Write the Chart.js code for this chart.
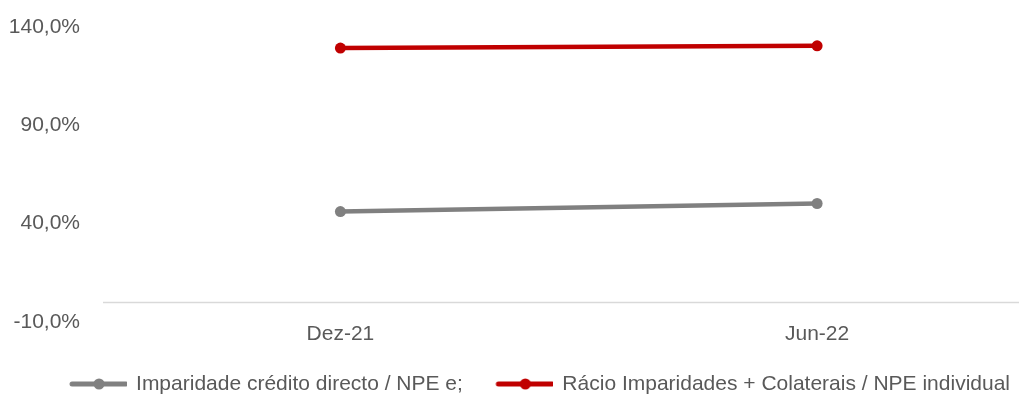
<!DOCTYPE html>
<html>
<head>
<meta charset="utf-8">
<script src="https://cdn.jsdelivr.net/npm/chart.js@4"></script>
<style>
  html, body { margin: 0; padding: 0; background: #fff; }
  #wrap { width: 1019px; height: 397px; }
</style>
</head>
<body>
<div id="wrap"><canvas id="chart" width="1019" height="397"></canvas></div>
<script>
const categories = ["Dez-21", "Jun-22"];
const imparidadeValues = [46.1, 50.2];
const racioValues = [129.3, 130.4];
const seriesNames = ["Imparidade crédito directo / NPE e;", "Rácio Imparidades + Colaterais / NPE individual"];
const yTicks = [-10, 40, 90, 140];

const GREY = "#808080";
const RED = "#C00000";
const TEXT = "#595959";
const FONT = "'Liberation Sans', Arial, sans-serif";
const FS = 21;

// line+marker image for the legend, with some blank room on the left
function legendIcon(color) {
  const c = document.createElement("canvas");
  c.width = 74; c.height = 14;
  const g = c.getContext("2d");
  g.strokeStyle = color;
  g.lineWidth = 5;
  g.lineCap = "round";
  g.beginPath(); g.moveTo(19, 7); g.lineTo(73, 7); g.stroke();
  g.fillStyle = color;
  g.beginPath(); g.arc(46, 7, 5.5, 0, Math.PI * 2); g.fill();
  return c;
}

function toPoints(vals) {
  return vals.map((v, i) => ({ x: i, y: v }));
}

const zeroLine = {
  id: "zeroLine",
  beforeDatasetsDraw(chart) {
    const { ctx, chartArea, scales } = chart;
    const y = Math.round(scales.y.getPixelForValue(0)) + 0.5;
    ctx.save();
    ctx.strokeStyle = "#D9D9D9";
    ctx.lineWidth = 1.5;
    ctx.beginPath();
    ctx.moveTo(chartArea.left, y);
    ctx.lineTo(chart.width, y);
    ctx.stroke();
    ctx.restore();
  }
};

// move the legend row down and to the right like the original
const legendShift = {
  id: "legendShift",
  afterLayout(chart) {
    const lg = chart.legend;
    lg.right = 1010 + 18;
    lg.top += 8.5;
    lg.bottom += 8.5;
  }
};

const ctx = document.getElementById("chart").getContext("2d");
const chart = new Chart(ctx, {
  type: "line",
  data: {
    datasets: [
      {
        label: seriesNames[0],
        data: toPoints(imparidadeValues),
        borderColor: GREY,
        backgroundColor: GREY,
        borderWidth: 4.5,
        pointRadius: 5.5,
        pointStyle: "circle",
        pointBackgroundColor: GREY,
        pointBorderWidth: 0
      },
      {
        label: seriesNames[1],
        data: toPoints(racioValues),
        borderColor: RED,
        backgroundColor: RED,
        borderWidth: 4.5,
        pointRadius: 5.5,
        pointStyle: "circle",
        pointBackgroundColor: RED,
        pointBorderWidth: 0
      }
    ]
  },
  options: {
    responsive: false,
    animation: false,
    layout: { padding: { top: 27, right: 0, left: 10, bottom: 1 } },
    plugins: {
      tooltip: { enabled: false },
      legend: {
        position: "bottom",
        align: "end",
        labels: {
          font: { family: FONT, size: FS },
          color: TEXT,
          usePointStyle: true,
          pointStyleWidth: 71,
          boxHeight: 14,
          padding: 18,
          generateLabels(chart) {
            return chart.data.datasets.map((ds, i) => ({
              text: ds.label,
              fontColor: TEXT,
              pointStyle: legendIcon(ds.borderColor),
              datasetIndex: i,
              lineWidth: 0,
              hidden: false
            }));
          }
        }
      }
    },
    scales: {
      x: {
        type: "linear",
        min: -0.498,
        max: 1.412,
        grid: { display: false, drawTicks: false },
        border: { display: false },
        afterBuildTicks(axis) {
          axis.ticks = categories.map((c, i) => ({ value: i }));
        },
        afterFit(axis) {
          axis.paddingLeft = 0;
          axis.paddingRight = 0;
        },
        ticks: {
          font: { family: FONT, size: FS },
          color: TEXT,
          padding: 0,
          callback: (v) => categories[v]
        }
      },
      y: {
        min: -10,
        max: 140,
        grid: { display: false, drawTicks: false },
        border: { display: false },
        afterBuildTicks(axis) {
          axis.ticks = yTicks.map(v => ({ value: v }));
        },
        afterFit(axis) {
          axis.width = 93;
          axis.paddingTop = 0;
          axis.paddingBottom = 0;
        },
        ticks: {
          font: { family: FONT, size: FS },
          color: TEXT,
          padding: 23,
          callback: (v) => v.toFixed(1).replace(".", ",") + "%"
        }
      }
    }
  },
  plugins: [zeroLine, legendShift]
});
</script>
</body>
</html>
